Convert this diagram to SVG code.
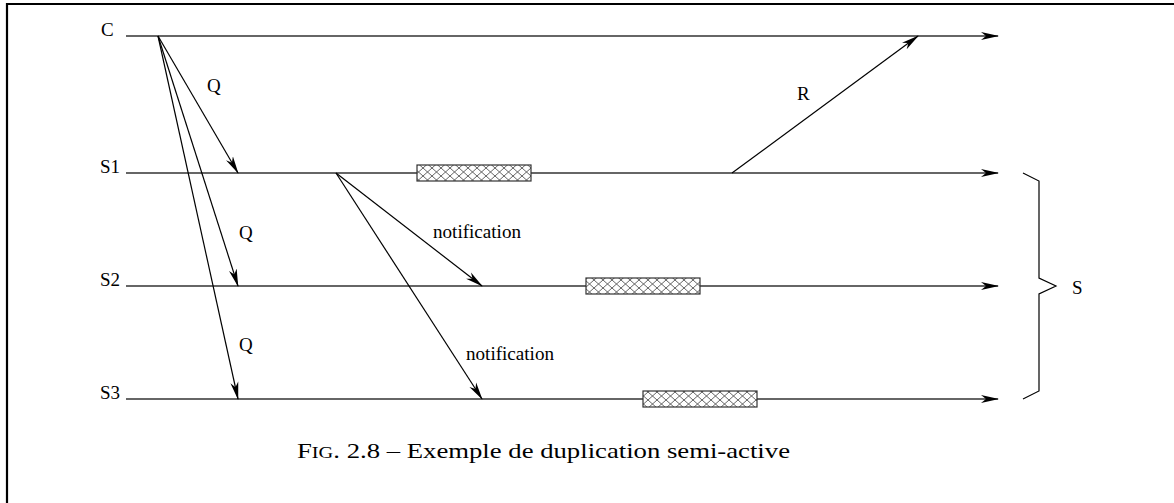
<svg xmlns="http://www.w3.org/2000/svg" width="1174" height="503" viewBox="0 0 1174 503">
<style>
text { font-family: "Liberation Serif", "Times New Roman", serif; font-size: 19px; fill: #000; }
.life { stroke: #333; stroke-width: 1.5; fill: none; marker-end: url(#ah); }
.msg { stroke: #000; stroke-width: 1.2; fill: none; marker-end: url(#ah); }
.hatch { fill: url(#xh); stroke: #333; stroke-width: 1.2; }
.cap { font-size: 21px; }
</style>
<defs>
<marker id="ah" viewBox="0 0 18 10" refX="17" refY="5" markerWidth="18" markerHeight="10" markerUnits="userSpaceOnUse" orient="auto">
<path d="M0,1 L18,5 L0,9 L5,5 Z" fill="#000"/>
</marker>
<pattern id="xh" patternUnits="userSpaceOnUse" width="9" height="8" x="0" y="0">
<rect width="9" height="8" fill="#fff"/>
<path d="M0,0 L9,8 M9,0 L0,8" stroke="#555" stroke-width="0.9"/>
</pattern>
</defs>
<rect width="1174" height="503" fill="#fff"/>
<path d="M7,503 V4 H1174" fill="none" stroke="#000" stroke-width="2.2"/>

<g id="lifeline-C">
<text x="101" y="36">C</text>
<line class="life" x1="126" y1="36" x2="998" y2="36"/>
</g>
<g id="lifeline-S1">
<text x="100" y="173">S1</text>
<line class="life" x1="126" y1="173" x2="998" y2="173"/>
<rect class="hatch" x="417" y="165" width="114" height="16"/>
</g>
<g id="lifeline-S2">
<text x="100" y="286">S2</text>
<line class="life" x1="126" y1="286" x2="998" y2="286"/>
<rect class="hatch" x="586" y="278" width="114" height="16"/>
</g>
<g id="lifeline-S3">
<text x="100" y="399">S3</text>
<line class="life" x1="126" y1="399" x2="998" y2="399"/>
<rect class="hatch" x="643" y="391" width="114" height="16"/>
</g>

<g id="connectors">
<line class="msg" x1="158" y1="36" x2="238" y2="173"/>
<line class="msg" x1="158" y1="36" x2="238" y2="286"/>
<line class="msg" x1="158" y1="36" x2="238" y2="399"/>
<line class="msg" x1="336" y1="173" x2="482" y2="286"/>
<line class="msg" x1="336" y1="173" x2="482" y2="399"/>
<line class="msg" x1="732" y1="173" x2="918" y2="36"/>
<text x="207" y="92">Q</text>
<text x="239" y="239">Q</text>
<text x="239" y="351">Q</text>
<text x="433" y="238" textLength="88" lengthAdjust="spacingAndGlyphs">notification</text>
<text x="466" y="360" textLength="88" lengthAdjust="spacingAndGlyphs">notification</text>
<text x="797" y="100">R</text>
</g>

<g id="group-S">
<path d="M1023,173 L1039,181 V278 L1056,286 L1039,294 V391 L1023,399" fill="none" stroke="#000" stroke-width="1.2"/>
<text x="1072" y="294">S</text>
</g>

<text class="cap" x="297" y="458" textLength="493" lengthAdjust="spacingAndGlyphs">F<tspan font-size="16">IG</tspan>. 2.8 – Exemple de duplication semi-active</text>
</svg>
